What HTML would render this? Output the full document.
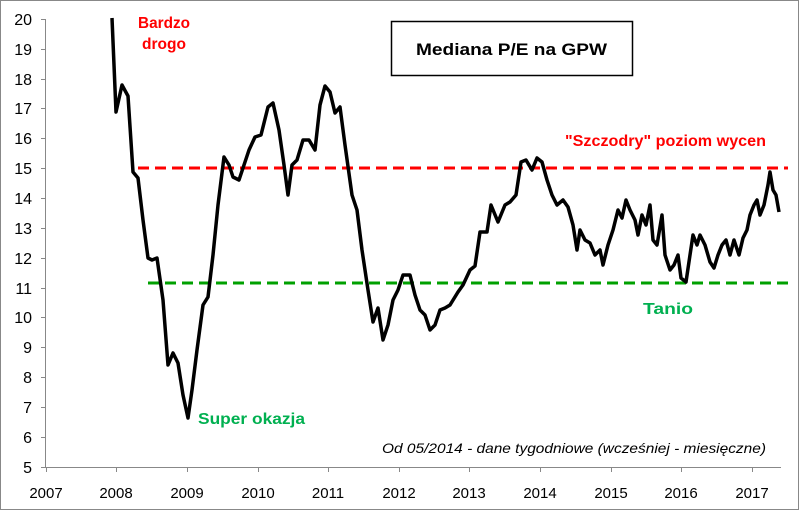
<!DOCTYPE html>
<html><head><meta charset="utf-8"><style>
html,body{margin:0;padding:0;background:#fff;}
svg{display:block;font-family:"Liberation Sans",sans-serif;}
</style></head><body>
<svg width="800" height="511" xmlns="http://www.w3.org/2000/svg">
<rect x="0.5" y="0.5" width="798" height="509" fill="#fff" stroke="#888" stroke-width="1"/>
<g stroke="#888" stroke-width="1">
<line x1="45.5" y1="19" x2="45.5" y2="467"/>
<line x1="45" y1="467.5" x2="781" y2="467.5"/>
</g>
<g stroke="#888" stroke-width="1">
<line x1="41" y1="19.5" x2="45" y2="19.5"/><line x1="41" y1="49.5" x2="45" y2="49.5"/><line x1="41" y1="79.5" x2="45" y2="79.5"/><line x1="41" y1="108.5" x2="45" y2="108.5"/><line x1="41" y1="138.5" x2="45" y2="138.5"/><line x1="41" y1="168.5" x2="45" y2="168.5"/><line x1="41" y1="198.5" x2="45" y2="198.5"/><line x1="41" y1="228.5" x2="45" y2="228.5"/><line x1="41" y1="258.5" x2="45" y2="258.5"/><line x1="41" y1="288.5" x2="45" y2="288.5"/><line x1="41" y1="317.5" x2="45" y2="317.5"/><line x1="41" y1="347.5" x2="45" y2="347.5"/><line x1="41" y1="377.5" x2="45" y2="377.5"/><line x1="41" y1="407.5" x2="45" y2="407.5"/><line x1="41" y1="437.5" x2="45" y2="437.5"/><line x1="41" y1="467.5" x2="45" y2="467.5"/>
<line x1="46.5" y1="467" x2="46.5" y2="472"/><line x1="116.5" y1="467" x2="116.5" y2="472"/><line x1="187.5" y1="467" x2="187.5" y2="472"/><line x1="258.5" y1="467" x2="258.5" y2="472"/><line x1="328.5" y1="467" x2="328.5" y2="472"/><line x1="399.5" y1="467" x2="399.5" y2="472"/><line x1="469.5" y1="467" x2="469.5" y2="472"/><line x1="540.5" y1="467" x2="540.5" y2="472"/><line x1="611.5" y1="467" x2="611.5" y2="472"/><line x1="681.5" y1="467" x2="681.5" y2="472"/><line x1="752.5" y1="467" x2="752.5" y2="472"/>
</g>
<g font-size="16" fill="#000" text-anchor="end">
<text x="32" y="25">20</text><text x="32" y="55">19</text><text x="32" y="85">18</text><text x="32" y="114">17</text><text x="32" y="144">16</text><text x="32" y="174">15</text><text x="32" y="204">14</text><text x="32" y="234">13</text><text x="32" y="264">12</text><text x="32" y="294">11</text><text x="32" y="323">10</text><text x="32" y="353">9</text><text x="32" y="383">8</text><text x="32" y="413">7</text><text x="32" y="443">6</text><text x="32" y="473">5</text>
</g>
<g font-size="15" fill="#000" text-anchor="middle">
<text x="46" y="498">2007</text><text x="116" y="498">2008</text><text x="187" y="498">2009</text><text x="258" y="498">2010</text><text x="328" y="498">2011</text><text x="399" y="498">2012</text><text x="469" y="498">2013</text><text x="540" y="498">2014</text><text x="611" y="498">2015</text><text x="681" y="498">2016</text><text x="752" y="498">2017</text>
</g>
<line x1="138" y1="168" x2="788" y2="168" stroke="#ff0000" stroke-width="3" stroke-dasharray="11,6"/>
<line x1="148" y1="283" x2="788" y2="283" stroke="#00a000" stroke-width="3" stroke-dasharray="11,6"/>
<polyline fill="none" stroke="#000" stroke-width="3.5" stroke-linejoin="round" points="112,18 116,112 122,85 128,96 133,172 138,178 143,220 148,258 152,260 157,258 163,300 168,365 173,353 178,363 183,395 188,418 192,390 197,350 203,305 208,297 213,255 218,205 224,157 229,165 233,177 239,180 244,165 249,150 255,137 261,135 268,107 273,103 279,130 284,165 288,195 292,165 297,160 303,140 309,140 315,150 320,105 325,86 330,92 335,113 340,107 345,145 352,195 357,210 362,250 368,290 373,322 378,308 383,340 388,325 393,300 398,290 403,275 410,275 415,295 420,310 425,315 430,330 435,325 440,310 445,308 450,305 458,292 463,285 470,270 475,266 480,232 487,232 491,205 498,222 505,205 510,202 516,195 521,162 526,160 532,170 537,158 542,162 547,180 552,195 557,205 563,200 568,207 573,225 577,250 580,230 585,240 590,243 595,255 600,250 603,265 608,245 613,230 618,210 622,218 626,200 630,210 635,220 638,235 642,215 646,225 650,205 653,240 657,245 662,215 665,255 670,270 674,265 678,255 681,278 686,282 690,255 693,235 697,245 700,235 705,245 710,262 714,268 718,255 722,245 726,240 730,255 734,240 739,255 743,238 747,230 750,215 754,205 757,200 760,215 764,205 768,185 770,172 773,190 776,195 779,212"/>
<rect x="391.5" y="21.5" width="241" height="54" fill="#fff" stroke="#000" stroke-width="1.5"/>
<text x="416" y="55" font-size="17" font-weight="bold" textLength="191" lengthAdjust="spacingAndGlyphs">Mediana P/E na GPW</text>
<g font-weight="bold" font-size="16" fill="#ff0000">
<text x="138" y="28" textLength="52" lengthAdjust="spacingAndGlyphs">Bardzo</text><text x="142" y="49" textLength="44" lengthAdjust="spacingAndGlyphs">drogo</text>
<text x="565" y="146" textLength="201" lengthAdjust="spacingAndGlyphs">"Szczodry" poziom wycen</text>
</g>
<g font-weight="bold" font-size="16" fill="#00b050">
<text x="198" y="424" textLength="107" lengthAdjust="spacingAndGlyphs">Super okazja</text>
<text x="643" y="314" textLength="50" lengthAdjust="spacingAndGlyphs">Tanio</text>
</g>
<text x="382" y="453" font-size="14" font-style="italic" textLength="384" lengthAdjust="spacingAndGlyphs">Od 05/2014 - dane tygodniowe (wcześniej - miesięczne)</text>
</svg>
</body></html>
